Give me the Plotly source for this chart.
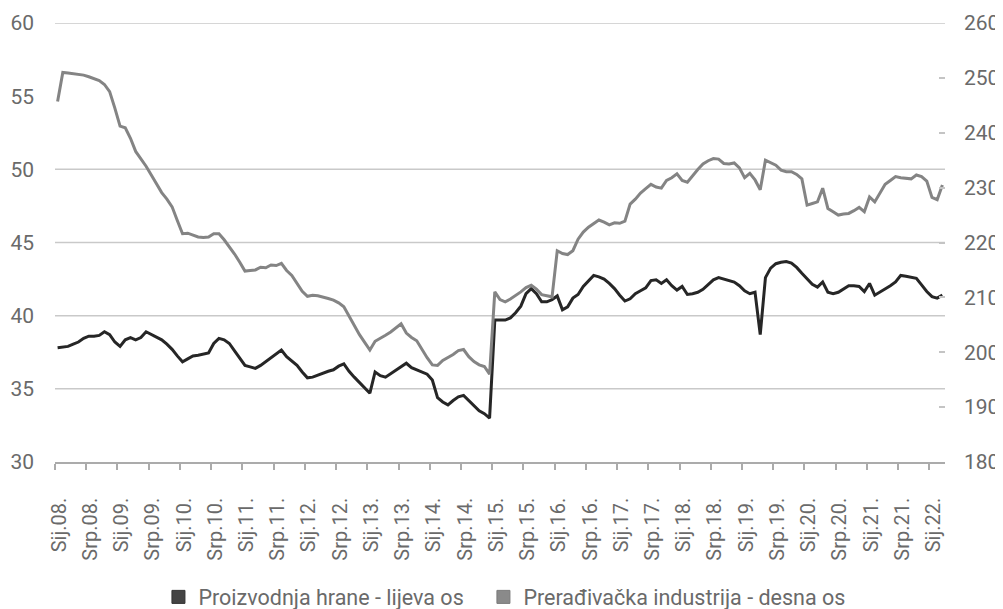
import plotly.graph_objects as go

# Monthly data, Jan 2008 (index 0) .. Mar 2022 (index 170)
food = [
    37.8, 37.85, 37.9, 38.05, 38.2, 38.45, 38.6, 38.6, 38.65, 38.9,
    38.7, 38.2, 37.9, 38.35, 38.5, 38.35, 38.5, 38.9, 38.7, 38.55,
    38.35, 38.05, 37.7, 37.25, 36.85, 37.05, 37.25, 37.3, 37.35, 37.45,
    38.1, 38.45, 38.35, 38.1, 37.6, 37.1, 36.6, 36.5, 36.4, 36.6,
    36.85, 37.1, 37.35, 37.65, 37.2, 36.9, 36.6, 36.15, 35.75, 35.8,
    35.95, 36.05, 36.2, 36.3, 36.55, 36.7, 36.2, 35.8, 35.45, 35.1,
    34.7, 36.15, 35.9, 35.8, 36.05, 36.3, 36.55, 36.75, 36.45, 36.3,
    36.2, 36.0, 35.6, 34.4, 34.1, 33.9, 34.2, 34.45, 34.55, 34.2,
    33.8, 33.5, 33.3, 33.0, 39.7, 39.7, 39.7, 39.85, 40.2, 40.65,
    41.5, 41.85, 41.5, 40.95, 40.95, 41.1, 41.35, 40.4, 40.6, 41.2,
    41.45, 42.0, 42.35, 42.75, 42.65, 42.5, 42.2, 41.85, 41.4, 41.0,
    41.15, 41.5, 41.7, 41.9, 42.4, 42.45, 42.2, 42.45, 42.05, 41.75,
    42.0, 41.45, 41.5, 41.6, 41.8, 42.15, 42.45, 42.6, 42.5, 42.45,
    42.3, 42.05, 41.7, 41.5, 41.6, 38.7, 42.6, 43.25, 43.55, 43.65,
    43.7, 43.6, 43.3, 42.9, 42.5, 42.15, 41.95, 42.3, 41.6, 41.5,
    41.6, 41.85, 42.05, 42.05, 42.0, 41.65, 42.2, 41.4, 41.6, 41.85,
    42.05, 42.3, 42.75, 42.7, 42.65, 42.55, 42.1, 41.65, 41.3, 41.2,
    41.4,
]

manufacturing = [
    245.7, 251.0, 250.9, 250.8, 250.6, 250.5, 250.2, 249.9, 249.5, 248.8,
    247.5, 244.5, 241.2, 240.9, 239.0, 236.6, 235.3, 233.9, 232.3, 230.6,
    229.1, 227.9, 226.5, 224.0, 221.6, 221.7, 221.4, 221.0, 220.9, 221.0,
    221.6, 221.6, 220.5, 219.3, 217.9, 216.4, 214.8, 214.9, 215.0, 215.5,
    215.4, 215.9, 215.8, 216.2, 214.9, 214.0, 212.6, 211.1, 210.2, 210.4,
    210.3, 210.1, 209.8, 209.5, 209.0, 208.3, 206.6, 204.9, 203.2, 201.8,
    200.4, 202.0, 202.5, 203.1, 203.7, 204.4, 205.2, 203.5, 202.7, 202.1,
    200.5, 199.0, 197.7, 197.6, 198.5, 199.0, 199.6, 200.3, 200.5, 199.2,
    198.3, 197.7, 197.4, 196.0, 211.0, 209.6, 209.2, 209.7, 210.3, 211.0,
    211.8, 212.2, 211.5, 210.5, 210.3, 210.1, 218.5, 218.0, 217.8, 218.5,
    220.6, 221.9, 222.8, 223.5, 224.1, 223.7, 223.2, 223.6, 223.5, 223.9,
    227.0, 227.9, 229.0, 229.8, 230.6, 230.1, 229.9, 231.3, 231.8, 232.5,
    231.3, 231.0, 232.2, 233.3, 234.3, 234.9, 235.3, 235.2, 234.4, 234.3,
    234.5, 233.6, 231.8, 232.6, 231.4, 229.6, 235.0, 234.6, 234.1, 233.2,
    232.9, 232.9, 232.4, 231.6, 226.8, 227.1, 227.4, 229.9, 226.2, 225.6,
    225.0, 225.2, 225.3, 225.8, 226.4, 225.6, 228.3, 227.4, 229.0, 230.6,
    231.3, 232.0, 231.8, 231.7, 231.6, 232.3, 232.0, 231.2, 228.2, 227.8,
    230.5,
]

months = list(range(len(food)))

tick_labels = []
for yr in range(8, 23):
    tick_labels.append(f"Sij.{yr:02d}.")
    if yr < 22:
        tick_labels.append(f"Srp.{yr:02d}.")
tick_pos = [6 * k + 0.3 for k in range(len(tick_labels))]
tick_marks = [6 * k - 0.5 for k in range(len(tick_labels))]

left_ticks = [30, 35, 40, 45, 50, 55, 60]
grid_levels = [35, 40, 45, 50, 60]
right_ticks = [180, 190, 200, 210, 220, 230, 240, 250, 260]

name_food = "Proizvodnja hrane - lijeva os"
name_man = "Prerađivačka industrija - desna os"

FONT = "Roboto, 'Liberation Sans', sans-serif"
TXT = "#6a6a6a"

fig = go.Figure()

fig.add_trace(go.Scatter(
    x=months, y=manufacturing, yaxis="y2", mode="lines",
    line=dict(color="#848484", width=3), showlegend=False, name=name_man,
))
fig.add_trace(go.Scatter(
    x=months, y=food, yaxis="y", mode="lines",
    line=dict(color="#262626", width=3), showlegend=False, name=name_food,
))

# legend entries (square markers), one per legend box
fig.add_trace(go.Scatter(
    x=[None], y=[None], mode="markers", name=name_food, legend="legend",
    marker=dict(symbol="square", size=13, color="#444444",
                line=dict(color="#333333", width=1)),
))
fig.add_trace(go.Scatter(
    x=[None], y=[None], mode="markers", name=name_man, yaxis="y2",
    legend="legend2",
    marker=dict(symbol="square", size=13, color="#8a8a8a",
                line=dict(color="#7a7a7a", width=1)),
))

for g in grid_levels:
    fig.add_shape(type="line", xref="paper", yref="y", x0=0, x1=1, y0=g, y1=g,
                  line=dict(color="#c9c9c9", width=1.5), layer="below")

legend_common = dict(
    orientation="h", xref="container", yref="container",
    xanchor="left", y=0.033, yanchor="middle",
    font=dict(family=FONT, size=21.5, color=TXT), bgcolor="rgba(0,0,0,0)",
)

fig.update_layout(
    width=1003, height=609,
    margin=dict(l=47, r=66, t=15, b=155, autoexpand=False),
    paper_bgcolor="white", plot_bgcolor="white",
    font=dict(family=FONT, size=20, color=TXT),
    xaxis=dict(
        range=[-0.5, 170.5], tickmode="array", tickvals=tick_pos,
        ticktext=tick_labels, tickangle=-90, ticks="", ticklabelstandoff=26,
        showgrid=False, zeroline=False, showline=True, automargin=False,
        linecolor="#ababab", linewidth=1.5,
        tickfont=dict(family=FONT, size=20, color=TXT),
        minor=dict(tickmode="array", tickvals=tick_marks, ticks="outside",
                   ticklen=6, tickcolor="#ababab", tickwidth=1.5, showgrid=False),
    ),
    yaxis=dict(
        range=[30, 60], tickmode="array", tickvals=left_ticks, automargin=False,
        showgrid=False, zeroline=False, ticks="", ticklabelstandoff=20,
        tickfont=dict(family=FONT, size=21, color=TXT),
    ),
    yaxis2=dict(
        range=[180, 260], tickmode="array", tickvals=right_ticks, automargin=False,
        overlaying="y", side="right", showgrid=False, zeroline=False,
        ticks="inside", ticklen=6, tickcolor="#c4c4c4", tickwidth=1.5,
        ticklabelstandoff=18,
        tickfont=dict(family=FONT, size=21, color=TXT),
    ),
    legend=dict(x=0.150, **legend_common),
    legend2=dict(x=0.474, **legend_common),
)

fig.write_html("out.html")
